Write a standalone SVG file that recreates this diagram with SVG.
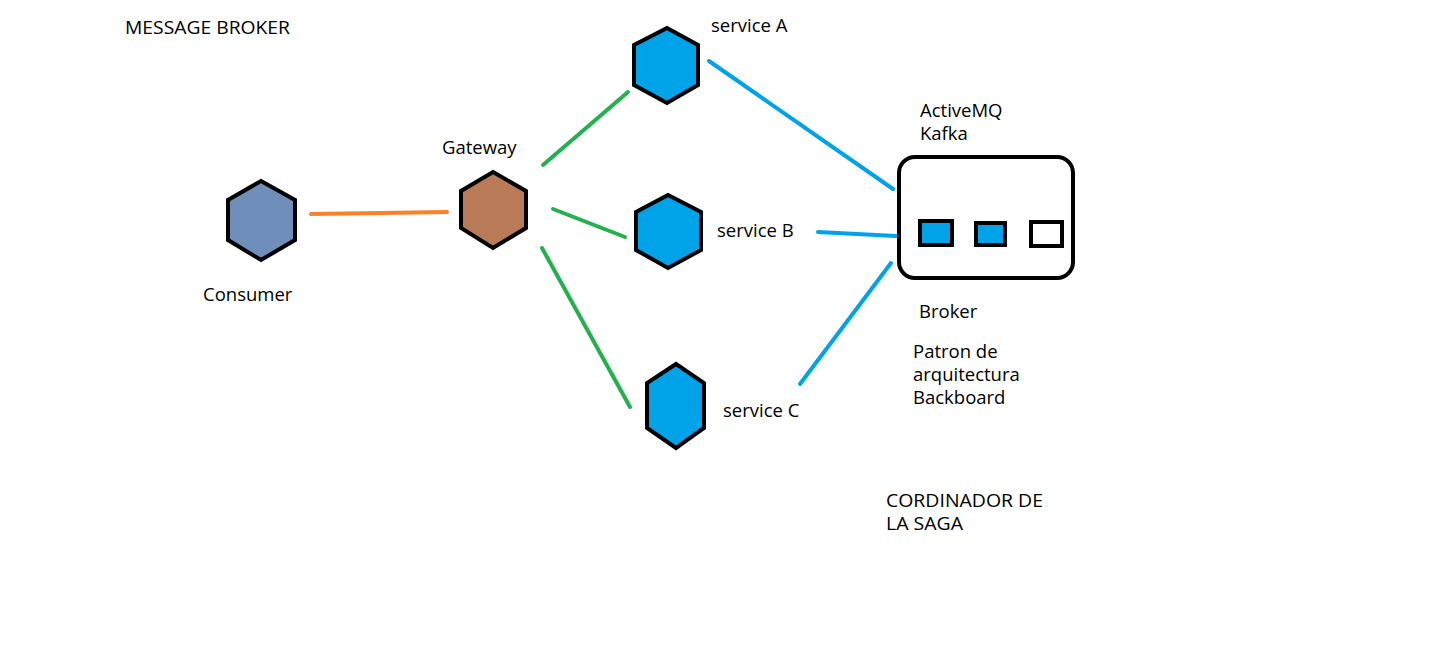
<svg xmlns="http://www.w3.org/2000/svg" width="1441" height="672" viewBox="0 0 1441 672">
<style>
text { font-family: "Open Sans", "Noto Sans", "DejaVu Sans", sans-serif; font-size: 18.5px; font-weight: 500; fill: #000; }
.hex { stroke: #000; stroke-width: 4; stroke-linejoin: miter; }
.svc { fill: #00A2E8; }
.c { fill: none; stroke-width: 4; stroke-linecap: round; }
.green { stroke: #22B14C; }
.blue { stroke: #00A2E8; }
.orange { stroke: #FF7F27; }
</style>
<rect width="1441" height="672" fill="#fff"/>
<g id="connectors">
<polyline class="c orange" points="311,214 380,213 447,212"/>
<line class="c green" x1="543" y1="165" x2="628" y2="92"/>
<line class="c green" x1="553" y1="209" x2="625" y2="237"/>
<line class="c green" x1="542" y1="248" x2="630" y2="407"/>
<line class="c blue" x1="709" y1="61" x2="893" y2="189"/>
<line class="c blue" x1="818" y1="232" x2="896" y2="236"/>
<line class="c blue" x1="800" y1="384" x2="891" y2="263"/>
</g>
<text x="125" y="34" textLength="165" lengthAdjust="spacingAndGlyphs">MESSAGE BROKER</text>
<g id="consumer">
<polygon class="hex" fill="#6F8FBA" points="261,181 295,200 295,240 261,260 228,240 228,200"/>
<text x="203" y="301">Consumer</text>
</g>
<g id="gateway">
<polygon class="hex" fill="#B97A57" points="493,172 526,191 526,228 493,248 461,228 461,191"/>
<text x="442" y="154">Gateway</text>
</g>
<g id="serviceA">
<polygon class="hex svc" points="667,28 698,45 698,85 667,103 634,85 634,45"/>
<text x="711" y="32">service A</text>
</g>
<g id="serviceB">
<polygon class="hex svc" points="668,195 701,212 701,250 668,268 636,250 636,212"/>
<text x="717" y="237">service B</text>
</g>
<g id="serviceC">
<polygon class="hex svc" points="676,364 704,383 704,428 676,448 647,428 647,383"/>
<text x="723" y="417">service C</text>
</g>
<g id="broker">
<rect x="899" y="157" width="174" height="121" rx="16" fill="#fff" stroke="#000" stroke-width="4"/>
<rect x="920" y="221" width="32" height="24" fill="#00A2E8" stroke="#000" stroke-width="4"/>
<rect x="976" y="223" width="29" height="22" fill="#00A2E8" stroke="#000" stroke-width="4"/>
<rect x="1031" y="222" width="31" height="24" fill="#fff" stroke="#000" stroke-width="4"/>
<text x="920" y="117">ActiveMQ</text>
<text x="920" y="140">Kafka</text>
<text x="919" y="318">Broker</text>
<text x="913" y="358">Patron de</text>
<text x="913" y="381">arquitectura</text>
<text x="913" y="404">Backboard</text>
</g>
<text x="886" y="507" textLength="157" lengthAdjust="spacingAndGlyphs">CORDINADOR DE</text>
<text x="886" y="530" textLength="77" lengthAdjust="spacingAndGlyphs">LA SAGA</text>
</svg>
